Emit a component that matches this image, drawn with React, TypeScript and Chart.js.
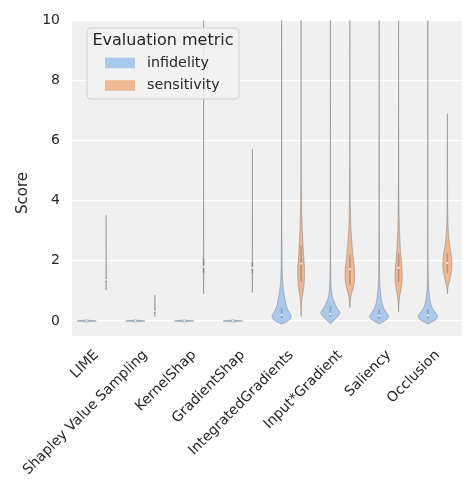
import React, { useEffect, useRef } from 'react';
import { Chart, registerables } from 'chart.js';

Chart.register(...registerables);

// ---------------- data ----------------
const categories = [
  'LIME',
  'Shapley Value Sampling',
  'KernelShap',
  'GradientShap',
  'IntegratedGradients',
  'Input*Gradient',
  'Saliency',
  'Occlusion',
];
const metrics = ['infidelity', 'sensitivity'];
const yTicks = [0, 2, 4, 6, 8, 10];

// violin outlines: [score, relative density]
const limeInfidelity = [[-0.03, 0], [-0.012, 0.7], [0, 1], [0.012, 0.7], [0.03, 0]];
const shapleyInfidelity = [[-0.03, 0], [-0.012, 0.7], [0, 1], [0.012, 0.7], [0.03, 0]];
const kernelShapInfidelity = [[-0.03, 0], [-0.012, 0.7], [0, 1], [0.012, 0.7], [0.03, 0]];
const gradientShapInfidelity = [[-0.03, 0], [-0.012, 0.7], [0, 1], [0.012, 0.7], [0.03, 0]];
const igInfidelity = [[-0.1, 0], [-0.05, 0.4], [0.05, 0.85], [0.15, 1], [0.25, 0.85], [0.4, 0.6], [0.55, 0.45], [0.7, 0.35], [1.0, 0.2], [1.3, 0.1], [1.8, 0.05], [3, 0.025], [6, 0.015], [11, 0.01]];
const ixgInfidelity = [[-0.1, 0], [0.0, 0.3], [0.1, 0.6], [0.2, 0.9], [0.28, 1], [0.4, 0.75], [0.55, 0.5], [0.7, 0.3], [0.85, 0.175], [1.0, 0.1], [1.3, 0.05], [2, 0.025], [4, 0.015], [11, 0.01]];
const saliencyInfidelity = [[-0.1, 0], [-0.03, 0.4], [0.05, 0.8], [0.15, 1], [0.25, 0.8], [0.4, 0.5], [0.6, 0.3], [0.8, 0.2], [1.1, 0.1], [1.5, 0.05], [3, 0.02], [11, 0.01]];
const occlusionInfidelity = [[-0.1, 0], [-0.03, 0.45], [0.05, 0.85], [0.15, 1], [0.25, 0.85], [0.35, 0.6], [0.5, 0.35], [0.7, 0.2], [1.0, 0.1], [1.5, 0.04], [3, 0.02], [11, 0.01]];

const limeSensitivity = [[1.03, 0], [1.2, 0.02], [1.4, 0.03], [1.8, 0.02], [2.6, 0.01], [3.52, 0]];
const shapleySensitivity = [[0.14, 0], [0.25, 0.03], [0.35, 0.04], [0.5, 0.03], [0.7, 0.015], [0.87, 0]];
const kernelShapSensitivity = [[0.9, 0], [1.3, 0.02], [1.8, 0.035], [2.4, 0.02], [4, 0.01], [7, 0.006], [11, 0.004]];
const gradientShapSensitivity = [[0.94, 0], [1.3, 0.02], [1.75, 0.035], [2.3, 0.02], [3.5, 0.01], [5.72, 0]];
const igSensitivity = [[0.15, 0], [0.4, 0.02], [0.7, 0.075], [0.9, 0.175], [1.2, 0.3], [1.5, 0.35], [1.8, 0.34], [2.1, 0.275], [2.5, 0.2], [3.0, 0.125], [3.5, 0.075], [4.0, 0.045], [5, 0.02], [7, 0.01], [11, 0.005]];
const ixgSensitivity = [[0.45, 0], [0.7, 0.05], [0.9, 0.15], [1.1, 0.35], [1.35, 0.475], [1.55, 0.5], [1.8, 0.45], [2.1, 0.35], [2.5, 0.225], [3.0, 0.125], [3.5, 0.07], [4.2, 0.035], [5.5, 0.015], [11, 0.005]];
const saliencySensitivity = [[0.3, 0], [0.6, 0.04], [0.85, 0.125], [1.05, 0.25], [1.3, 0.35], [1.5, 0.375], [1.75, 0.35], [2.0, 0.275], [2.4, 0.175], [2.9, 0.1], [3.5, 0.05], [4.5, 0.025], [7, 0.01], [11, 0.005]];
const occlusionSensitivity = [[0.9, 0], [1.1, 0.05], [1.25, 0.15], [1.45, 0.3], [1.7, 0.44], [1.9, 0.475], [2.1, 0.44], [2.35, 0.325], [2.6, 0.2], [2.9, 0.11], [3.3, 0.05], [4, 0.025], [5, 0.015], [6.9, 0]];

const infidelityProfiles = [limeInfidelity, shapleyInfidelity, kernelShapInfidelity, gradientShapInfidelity, igInfidelity, ixgInfidelity, saliencyInfidelity, occlusionInfidelity];
const sensitivityProfiles = [limeSensitivity, shapleySensitivity, kernelShapSensitivity, gradientShapSensitivity, igSensitivity, ixgSensitivity, saliencySensitivity, occlusionSensitivity];

// inner box statistics
const infidelityQ1 = [-0.05, -0.05, -0.05, -0.05, 0.08, 0.12, 0.07, 0.08];
const infidelityMedian = [0, 0, 0, 0, 0.2, 0.24, 0.18, 0.19];
const infidelityQ3 = [0.05, 0.05, 0.05, 0.05, 0.42, 0.5, 0.38, 0.38];
const sensitivityQ1 = [1.3, 0.28, 1.6, 1.6, 1.3, 1.2, 1.3, 1.6];
const sensitivityMedian = [1.37, 0.33, 1.8, 1.77, 1.9, 1.72, 1.77, 1.93];
const sensitivityQ3 = [1.45, 0.4, 2.05, 1.95, 2.5, 2.2, 2.25, 2.25];

// ---------------- styles ----------------
const FONT = "'DejaVu Sans', sans-serif";
const TEXT = '#262626';
const COLORS = ['rgb(171,201,236)', 'rgb(239,183,146)'];
const HUE_OFFSET = 0.2;
const MAX_HALF = 0.2;
const BG = '#f0f0f0';

const profilesByMetric = [infidelityProfiles, sensitivityProfiles];
const q1ByMetric = [infidelityQ1, sensitivityQ1];
const q3ByMetric = [infidelityQ3, sensitivityQ3];
const medianByMetric = [infidelityMedian, sensitivityMedian];

const violinPlugin = {
  id: 'violinPlugin',
  beforeDraw(chart: any) {
    const { ctx, chartArea: a } = chart;
    ctx.save();
    ctx.fillStyle = BG;
    ctx.fillRect(a.left, a.top, a.right - a.left, a.bottom - a.top);
    ctx.restore();
  },
  beforeDatasetsDraw(chart: any) {
    const { ctx, chartArea: a, scales } = chart;
    const xs = scales.x;
    const ys = scales.y;
    ctx.save();
    ctx.beginPath();
    ctx.rect(a.left, a.top, a.right - a.left, a.bottom - a.top);
    ctx.clip();
    profilesByMetric.forEach((profiles, m) => {
      profiles.forEach((prof: number[][], i: number) => {
        const cx = i + (m === 0 ? -HUE_OFFSET : HUE_OFFSET);
        ctx.beginPath();
        prof.forEach(([s, d], k) => {
          const px = xs.getPixelForValue(cx - d * MAX_HALF);
          const py = ys.getPixelForValue(s);
          if (k === 0) ctx.moveTo(px, py);
          else ctx.lineTo(px, py);
        });
        for (let k = prof.length - 1; k >= 0; k--) {
          const [s, d] = prof[k];
          ctx.lineTo(xs.getPixelForValue(cx + d * MAX_HALF), ys.getPixelForValue(s));
        }
        ctx.closePath();
        ctx.fillStyle = COLORS[m];
        ctx.fill();
        ctx.strokeStyle = 'rgba(110,110,110,0.4)';
        ctx.lineWidth = 1;
        ctx.lineJoin = 'round';
        ctx.stroke();

        // inner box
        const bx = xs.getPixelForValue(cx);
        ctx.beginPath();
        ctx.moveTo(bx, ys.getPixelForValue(q1ByMetric[m][i]));
        ctx.lineTo(bx, ys.getPixelForValue(q3ByMetric[m][i]));
        ctx.strokeStyle = 'rgba(90,90,90,0.35)';
        ctx.lineWidth = 1.6;
        ctx.lineCap = 'butt';
        ctx.stroke();
      });
    });
    ctx.restore();
  },
  afterDraw(chart: any) {
    const { ctx } = chart;
    ctx.save();
    // y axis title
    ctx.save();
    ctx.translate(23, 193);
    ctx.rotate(-Math.PI / 2);
    ctx.font = `15px ${FONT}`;
    ctx.fillStyle = TEXT;
    ctx.textAlign = 'center';
    ctx.textBaseline = 'middle';
    ctx.fillText('Score', 0, 0);
    ctx.restore();

    // legend
    const lx = 87, ly = 28, lw = 152, lh = 71, r = 4;
    ctx.beginPath();
    ctx.moveTo(lx + r, ly);
    ctx.lineTo(lx + lw - r, ly);
    ctx.quadraticCurveTo(lx + lw, ly, lx + lw, ly + r);
    ctx.lineTo(lx + lw, ly + lh - r);
    ctx.quadraticCurveTo(lx + lw, ly + lh, lx + lw - r, ly + lh);
    ctx.lineTo(lx + r, ly + lh);
    ctx.quadraticCurveTo(lx, ly + lh, lx, ly + lh - r);
    ctx.lineTo(lx, ly + r);
    ctx.quadraticCurveTo(lx, ly, lx + r, ly);
    ctx.closePath();
    ctx.fillStyle = 'rgba(242,242,242,0.85)';
    ctx.fill();
    ctx.strokeStyle = '#d4d4d4';
    ctx.lineWidth = 1;
    ctx.stroke();

    ctx.fillStyle = TEXT;
    ctx.textBaseline = 'middle';
    ctx.textAlign = 'center';
    ctx.font = `16px ${FONT}`;
    ctx.fillText('Evaluation metric', lx + lw / 2, 41);
    ctx.textAlign = 'left';
    ctx.font = `14.3px ${FONT}`;
    metrics.forEach((m, mi) => {
      const cy = 63 + mi * 22.5;
      ctx.fillStyle = COLORS[mi];
      ctx.fillRect(105, cy - 5.3, 30, 10.6);
      ctx.fillStyle = TEXT;
      ctx.fillText(m, 147, cy);
    });
    ctx.restore();
  },
};

export default function App() {
  const canvasRef = useRef<HTMLCanvasElement | null>(null);

  useEffect(() => {
    if (!canvasRef.current) return;
    Chart.defaults.font.family = FONT;
    const chart = new Chart(canvasRef.current, {
      type: 'scatter',
      data: {
        datasets: metrics.map((m, mi) => ({
          label: m,
          data: categories.map((_, i) => ({
            x: i + (mi === 0 ? -HUE_OFFSET : HUE_OFFSET),
            y: medianByMetric[mi][i],
          })),
          pointRadius: 1,
          pointHoverRadius: 1,
          pointBackgroundColor: 'rgba(255,255,255,0.9)',
          pointBorderWidth: 0,
          showLine: false,
        })),
      },
      options: {
        animation: false,
        responsive: true,
        maintainAspectRatio: false,
        layout: { padding: { top: 14, left: 0, right: 0, bottom: 0 } },
        plugins: {
          legend: { display: false },
          tooltip: { enabled: false },
        },
        scales: {
          x: {
            type: 'linear',
            min: -0.5,
            max: 7.5,
            afterBuildTicks: (scale: any) => {
              scale.ticks = categories.map((_, i) => ({ value: i }));
            },
            afterFit: (scale: any) => {
              scale.height = 145;
            },
            grid: { display: false, drawTicks: false },
            border: { display: false },
            ticks: {
              autoSkip: false,
              minRotation: 45,
              maxRotation: 45,
              padding: 11,
              color: TEXT,
              font: { size: 14, family: FONT },
              callback: (v: any) => categories[v] ?? '',
            },
          },
          y: {
            type: 'linear',
            min: -0.5,
            max: 10,
            afterBuildTicks: (scale: any) => {
              scale.ticks = yTicks.map((v) => ({ value: v }));
            },
            afterFit: (scale: any) => {
              scale.width = 72;
            },
            grid: { color: '#ffffff', lineWidth: 1.3, drawTicks: false },
            border: { display: false },
            ticks: {
              padding: 12,
              color: TEXT,
              font: { size: 14, family: FONT },
              callback: (v: any) => String(v),
            },
          },
        },
      },
      plugins: [violinPlugin],
    });
    return () => chart.destroy();
  }, []);

  return (
    <div style={{ position: 'fixed', left: 0, top: 0, width: 463, height: 481, background: '#ffffff' }}>
      <canvas ref={canvasRef} />
    </div>
  );
}
